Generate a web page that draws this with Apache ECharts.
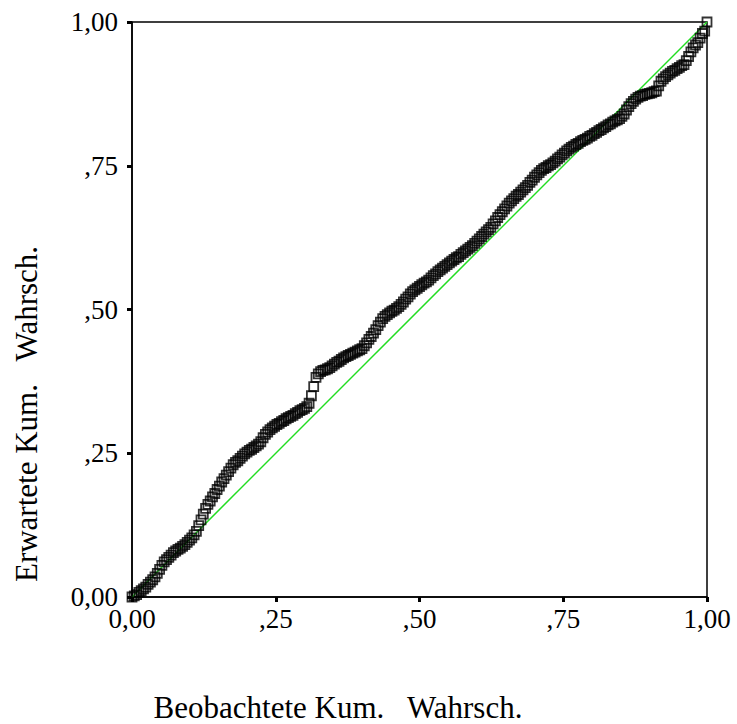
<!DOCTYPE html>
<html>
<head>
<meta charset="utf-8">
<title>P-P-Diagramm</title>
<script src="https://cdn.jsdelivr.net/npm/echarts@6/dist/echarts.min.js"></script>
<style>
  html, body { margin: 0; padding: 0; background: #fff; }
  #chart { width: 737px; height: 724px; }
</style>
</head>
<body>
<div id="chart"></div>
<script>
// Beobachtete kumulierte Wahrscheinlichkeit (x)
const observed = [
  0.000, 0.004, 0.008, 0.012, 0.016, 0.020, 0.024, 0.028, 0.032, 0.036,
  0.040, 0.044, 0.048, 0.052, 0.056, 0.060, 0.064, 0.068, 0.072, 0.076,
  0.080, 0.084, 0.088, 0.092, 0.096, 0.100, 0.104, 0.108, 0.112, 0.116,
  0.120, 0.124, 0.128, 0.132, 0.136, 0.140, 0.144, 0.148, 0.152, 0.156,
  0.160, 0.164, 0.168, 0.172, 0.176, 0.180, 0.184, 0.188, 0.192, 0.196,
  0.200, 0.204, 0.208, 0.212, 0.216, 0.220, 0.224, 0.228, 0.232, 0.236,
  0.240, 0.244, 0.248, 0.252, 0.256, 0.260, 0.264, 0.268, 0.272, 0.276,
  0.280, 0.284, 0.288, 0.292, 0.296, 0.300, 0.304, 0.308, 0.312, 0.316,
  0.320, 0.324, 0.328, 0.332, 0.336, 0.340, 0.344, 0.348, 0.352, 0.356,
  0.360, 0.364, 0.368, 0.372, 0.376, 0.380, 0.384, 0.388, 0.392, 0.396,
  0.400, 0.404, 0.408, 0.412, 0.416, 0.420, 0.424, 0.428, 0.432, 0.436,
  0.440, 0.444, 0.448, 0.452, 0.456, 0.460, 0.464, 0.468, 0.472, 0.476,
  0.480, 0.484, 0.488, 0.492, 0.496, 0.500, 0.504, 0.508, 0.512, 0.516,
  0.520, 0.524, 0.528, 0.532, 0.536, 0.540, 0.544, 0.548, 0.552, 0.556,
  0.560, 0.564, 0.568, 0.572, 0.576, 0.580, 0.584, 0.588, 0.592, 0.596,
  0.600, 0.604, 0.608, 0.612, 0.616, 0.620, 0.624, 0.628, 0.632, 0.636,
  0.640, 0.644, 0.648, 0.652, 0.656, 0.660, 0.664, 0.668, 0.672, 0.676,
  0.680, 0.684, 0.688, 0.692, 0.696, 0.700, 0.704, 0.708, 0.712, 0.716,
  0.720, 0.724, 0.728, 0.732, 0.736, 0.740, 0.744, 0.748, 0.752, 0.756,
  0.760, 0.764, 0.768, 0.772, 0.776, 0.780, 0.784, 0.788, 0.792, 0.796,
  0.800, 0.804, 0.808, 0.812, 0.816, 0.820, 0.824, 0.828, 0.832, 0.836,
  0.840, 0.844, 0.848, 0.852, 0.856, 0.860, 0.864, 0.868, 0.872, 0.876,
  0.880, 0.884, 0.888, 0.892, 0.896, 0.900, 0.904, 0.908, 0.912, 0.916,
  0.920, 0.924, 0.928, 0.932, 0.936, 0.940, 0.944, 0.948, 0.952, 0.956,
  0.960, 0.964, 0.968, 0.972, 0.976, 0.980, 0.984, 0.988, 0.992, 0.996,
  1.000
];

// Erwartete kumulierte Wahrscheinlichkeit (y)
const expected = [
  0.000, 0.002, 0.004, 0.008, 0.011, 0.014, 0.017, 0.022, 0.026, 0.030,
  0.035, 0.041, 0.048, 0.055, 0.061, 0.065, 0.069, 0.073, 0.077, 0.080,
  0.083, 0.085, 0.088, 0.091, 0.095, 0.099, 0.103, 0.108, 0.114, 0.124,
  0.134, 0.144, 0.154, 0.161, 0.167, 0.174, 0.180, 0.187, 0.193, 0.200,
  0.206, 0.212, 0.218, 0.224, 0.230, 0.234, 0.237, 0.241, 0.245, 0.249,
  0.252, 0.255, 0.257, 0.260, 0.263, 0.266, 0.270, 0.277, 0.283, 0.287,
  0.291, 0.294, 0.297, 0.300, 0.302, 0.305, 0.307, 0.310, 0.312, 0.314,
  0.316, 0.319, 0.321, 0.324, 0.326, 0.328, 0.331, 0.337, 0.350, 0.366,
  0.382, 0.388, 0.392, 0.394, 0.395, 0.397, 0.399, 0.402, 0.405, 0.408,
  0.410, 0.413, 0.416, 0.418, 0.420, 0.422, 0.424, 0.426, 0.428, 0.430,
  0.432, 0.437, 0.442, 0.448, 0.453, 0.459, 0.465, 0.472, 0.478, 0.484,
  0.488, 0.491, 0.494, 0.497, 0.499, 0.502, 0.505, 0.509, 0.513, 0.518,
  0.522, 0.527, 0.531, 0.534, 0.537, 0.540, 0.543, 0.546, 0.548, 0.551,
  0.555, 0.559, 0.562, 0.566, 0.569, 0.572, 0.575, 0.578, 0.581, 0.584,
  0.587, 0.590, 0.592, 0.596, 0.599, 0.602, 0.605, 0.608, 0.611, 0.615,
  0.619, 0.623, 0.627, 0.631, 0.635, 0.639, 0.643, 0.649, 0.654, 0.660,
  0.665, 0.670, 0.675, 0.680, 0.685, 0.689, 0.693, 0.697, 0.700, 0.704,
  0.708, 0.712, 0.716, 0.721, 0.725, 0.730, 0.734, 0.738, 0.742, 0.745,
  0.747, 0.750, 0.752, 0.755, 0.758, 0.762, 0.765, 0.769, 0.772, 0.776,
  0.779, 0.782, 0.784, 0.787, 0.789, 0.792, 0.794, 0.796, 0.798, 0.801,
  0.803, 0.806, 0.808, 0.811, 0.813, 0.816, 0.818, 0.821, 0.823, 0.826,
  0.828, 0.830, 0.832, 0.836, 0.840, 0.847, 0.853, 0.858, 0.862, 0.866,
  0.869, 0.871, 0.872, 0.874, 0.875, 0.876, 0.877, 0.879, 0.880, 0.889,
  0.897, 0.901, 0.905, 0.908, 0.911, 0.914, 0.916, 0.919, 0.921, 0.924,
  0.926, 0.933, 0.940, 0.948, 0.955, 0.960, 0.964, 0.972, 0.980, 0.984,
  1.000
];

// Diagonale (Normalverteilung)
const diagonalX = [0, 1];
const diagonalY = [0, 1];

// Achsenbeschriftungen
const tickValues = [0, 0.25, 0.5, 0.75, 1];
const tickLabels = ['0,00', ',25', ',50', ',75', '1,00'];
const xTitle = 'Beobachtete Kum.   Wahrsch.';
const yTitle = 'Erwartete Kum.   Wahrsch.';

const FONT = '"Liberation Serif", "Times New Roman", serif';

function tickText(v) {
  const i = tickValues.findIndex(t => Math.abs(t - v) < 1e-9);
  return i >= 0 ? tickLabels[i] : '';
}

const points = observed.map((x, i) => [x, expected[i]]);
const diagonal = diagonalX.map((x, i) => [x, diagonalY[i]]);

function axis(labelMargin) {
  return {
    type: 'value',
    min: 0,
    max: 1,
    interval: 0.25,
    splitLine: { show: false },
    axisLine: { show: true, onZero: false, lineStyle: { color: '#000', width: 1.5 } },
    axisTick: { show: true, inside: false, length: 5, lineStyle: { color: '#000', width: 3 } },
    axisLabel: {
      color: '#000',
      fontFamily: FONT,
      fontSize: 27,
      margin: labelMargin,
      formatter: tickText
    }
  };
}

const chart = echarts.init(document.getElementById('chart'), null, { renderer: 'svg' });

chart.setOption({
  backgroundColor: '#fff',
  animation: false,
  grid: {
    left: 132,
    right: 30,
    top: 22,
    bottom: 127,
    show: true,
    borderColor: '#000',
    borderWidth: 1.5,
    backgroundColor: 'transparent'
  },
  xAxis: axis(8),
  yAxis: axis(14),
  series: [
    {
      type: 'line',
      data: diagonal,
      symbol: 'none',
      lineStyle: { color: '#22dd22', width: 1.5 },
      z: 1
    },
    {
      type: 'scatter',
      data: points,
      symbol: 'rect',
      symbolSize: 9,
      clip: false,
      itemStyle: { color: 'rgba(0,0,0,0)', borderColor: '#000', borderWidth: 1.8 },
      z: 3
    }
  ],
  graphic: [
    {
      type: 'text',
      x: 338,
      y: 707,
      style: {
        text: xTitle,
        fill: '#000',
        font: '31px ' + FONT,
        align: 'center',
        verticalAlign: 'middle'
      }
    },
    {
      type: 'text',
      x: 26,
      y: 414,
      rotation: Math.PI / 2,
      style: {
        text: yTitle,
        fill: '#000',
        font: '31px ' + FONT,
        align: 'center',
        verticalAlign: 'middle'
      }
    }
  ]
});
</script>
</body>
</html>
